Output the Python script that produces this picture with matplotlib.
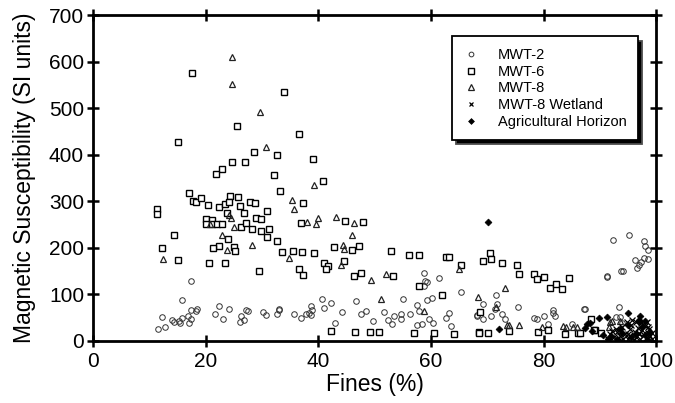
import matplotlib
matplotlib.use("Agg")
import matplotlib.pyplot as plt

plt.rcParams['font.family'] = ['Liberation Sans', 'DejaVu Sans']

# MWT-2 (circles)
mwt2_x = [17.3,15.8,22.4,24.2,17.3,18.4,18.3,12.3,14.0,14.3,15.3,15.8,16.8,17.3,17.0,15.4,11.6,12.7,21.7,23.1,
          26.2,26.8,26.0,27.2,27.5,30.2,30.7,32.6,33.0,33.0,
          40.6,42.2,41.0,38.7,38.9,38.4,37.8,37.0,38.7,35.6,44.2,46.7,47.5,48.4,49.7,42.9,51.6,52.3,53.1,53.5,
          54.6,54.7,55.0,56.3,57.5,57.8,57.6,58.5,59.3,60.2,59.7,60.3,58.8,59.0,59.3,58.7,61.4,62.6,63.2,63.5,65.3,68.1,
          92.4,95.1,97.8,98.0,98.6,96.2,97.8,98.5,97.3,96.9,96.6,94.1,91.2,71.6,71.8,69.2,68.2,69.2,70.7,71.4,
          72.6,73.1,75.5,78.3,78.9,80.0,80.8,81.7,81.6,82.1,87.2,85.0,93.4,93.6,93.9,92.8,91.2,93.8,87.3]
mwt2_y = [129,89,76,68,67,69,65,52,46,40,42,49,53,48,39,39,25,29,57,47,
          53,44,40,67,65,62,55,57,69,66,
          90,82,70,76,66,60,58,50,55,58,63,85,57,64,42,39,62,45,37,54,
          58,47,90,57,78,64,35,37,89,93,47,39,145,128,126,118,136,50,61,32,105,55,
          218,227,214,204,195,174,179,176,170,163,157,151,138,98,79,80,54,47,54,68,
          57,47,73,50,47,54,37,66,60,53,68,37,72,52,39,52,140,150,68]

# MWT-6 (squares)
mwt6_x = [17.6,33.9,15.1,25.6,36.6,39.1,40.8,32.1,28.6,32.6,24.6,26.9,22.9,21.8,
          17.1,33.2,17.8,18.3,19.2,20.4,22.3,23.4,24.3,25.7,26.1,27.8,28.7,26.8,30.9,23.7,11.3,11.3,
          20.0,21.1,20.0,21.1,22.0,22.9,26.2,27.2,28.9,29.8,28.3,29.8,31.3,30.9,32.7,33.6,14.4,23.9,
          22.3,21.3,25.0,25.2,12.2,15.1,20.6,23.4,29.5,24.1,
          37.2,37.0,44.8,48.0,35.5,37.1,39.2,42.8,45.9,47.3,52.9,56.1,57.8,62.6,63.2,36.6,37.2,41.0,41.7,41.4,
          44.6,47.6,46.4,53.3,57.9,62.0,65.3,42.3,46.5,49.2,50.7,57.0,60.6,64.1,68.6,
          70.5,69.2,70.6,72.6,75.3,75.7,78.3,78.8,80.0,81.2,82.2,83.3,84.5,68.7,68.6,70.2,73.9,79.0,80.8,83.8,
          86.1,88.4,89.2,90.3,86.5,89.0]
mwt6_y = [576,535,427,462,445,391,343,356,406,399,385,385,369,358,
          318,323,301,299,308,293,288,295,312,310,290,298,297,276,280,276,283,272,
          262,261,252,252,252,252,244,254,265,262,240,237,241,224,214,191,228,219,
          204,200,202,193,200,174,167,167,151,299,
          297,254,257,255,194,191,189,201,196,204,194,184,184,180,180,154,141,168,162,154,
          171,146,139,139,118,98,163,22,19,19,19,17,17,15,19,
          188,172,176,168,163,143,143,133,138,113,122,111,136,62,18,17,22,19,23,14,
          18,47,23,16,16,23]

# MWT-8 (triangles)
mwt8_x = [24.7,24.7,29.6,30.7,24.2,25.0,22.9,23.7,28.3,12.4,34.8,20.7,24.5,
          39.2,35.3,35.7,37.9,39.6,40.0,43.2,46.4,45.9,44.3,44.6,44.0,49.3,52.0,51.2,58.8,65.0,68.3,
          73.2,71.6,73.5,73.9,75.7,79.7,83.4,84.0,85.2,86.0,91.8,93.6,92.2,91.7]
mwt8_y = [611,552,492,416,270,245,227,195,207,176,179,252,265,
          336,302,283,255,252,264,266,253,227,207,197,163,130,143,91,64,154,94,
          114,73,35,34,34,30,32,31,30,30,41,42,43,30]

# MWT-8 Wetland (x)
wet_x = [93.0,93.5,94.0,94.5,95.0,95.3,95.6,96.0,96.2,96.5,96.8,97.0,97.2,97.5,97.8,98.0,98.2,98.5,98.8,99.0,
         99.2,96.5,95.8,97.3,94.2,92.5,91.8,92.8,95.0,96.0,94.8,97.6,98.6,93.8,95.4,96.9,98.3,99.3,91.5,92.2]
wet_y = [20,10,30,15,5,25,35,12,20,8,28,18,4,24,12,33,6,18,26,10,
         4,40,45,38,5,8,15,25,15,3,40,36,30,3,10,14,40,16,4,22]

# Agricultural Horizon (filled diamonds)
agr_x = [70.2,72.1,89.8,91.3,95.0,97.2,87.7,87.4,88.2,88.7,97.0,98.0,
         92.0,93.0,94.0,95.5,96.5,97.5,98.0,98.5,99.0,90.5,91.5,93.5,95.0,97.0]
agr_y = [256,25,49,52,59,53,37,27,39,22,43,42,
         10,5,18,8,15,30,12,3,20,12,5,25,35,45]

fig = plt.figure(figsize=(6.75, 4.03), dpi=100)
ax = fig.add_axes([0.138, 0.154, 0.834, 0.808])

ax.plot(mwt2_x, mwt2_y, linestyle='none', marker='o', ms=4, mfc='none', mec='#333333', mew=0.7, label='MWT-2')
ax.plot(mwt6_x, mwt6_y, linestyle='none', marker='s', ms=4.6, mfc='white', mec='black', mew=1.0, label='MWT-6')
ax.plot(mwt8_x, mwt8_y, linestyle='none', marker='^', ms=5, mfc='none', mec='#222222', mew=0.9, label='MWT-8')
ax.plot(wet_x, wet_y, linestyle='none', marker='x', ms=4, mec='black', mew=0.9, label='MWT-8 Wetland')
ax.plot(agr_x, agr_y, linestyle='none', marker='D', ms=3.5, mfc='black', mec='black', mew=0.5, label='Agricultural Horizon')

ax.set_xlim(0, 100)
ax.set_ylim(0, 700)
ax.set_xticks([0, 20, 40, 60, 80, 100])
ax.set_yticks([0, 100, 200, 300, 400, 500, 600, 700])
ax.tick_params(direction='inout', length=9, width=1.8, labelsize=15, top=True, right=True, pad=2)
ax.tick_params(axis='x', pad=3.5)
for s in ax.spines.values():
    s.set_linewidth(2)
ax.set_xlabel('Fines (%)', fontsize=16.5, labelpad=1.5)
ax.set_ylabel('Magnetic Susceptibility (SI units)', fontsize=16.5, labelpad=9)

leg = ax.legend(loc='upper left', bbox_to_anchor=(0.638, 0.935), fontsize=10.5, frameon=True, fancybox=False,
                edgecolor='black', handlelength=1.0, handletextpad=1.3, labelspacing=0.18, borderpad=0.8,
                borderaxespad=0, markerscale=0.85,
                shadow={'facecolor': 'black', 'alpha': 1, 'ox': 3, 'oy': -3})
leg.get_frame().set_linewidth(1.3)

fig.savefig('out.png', dpi=100)
